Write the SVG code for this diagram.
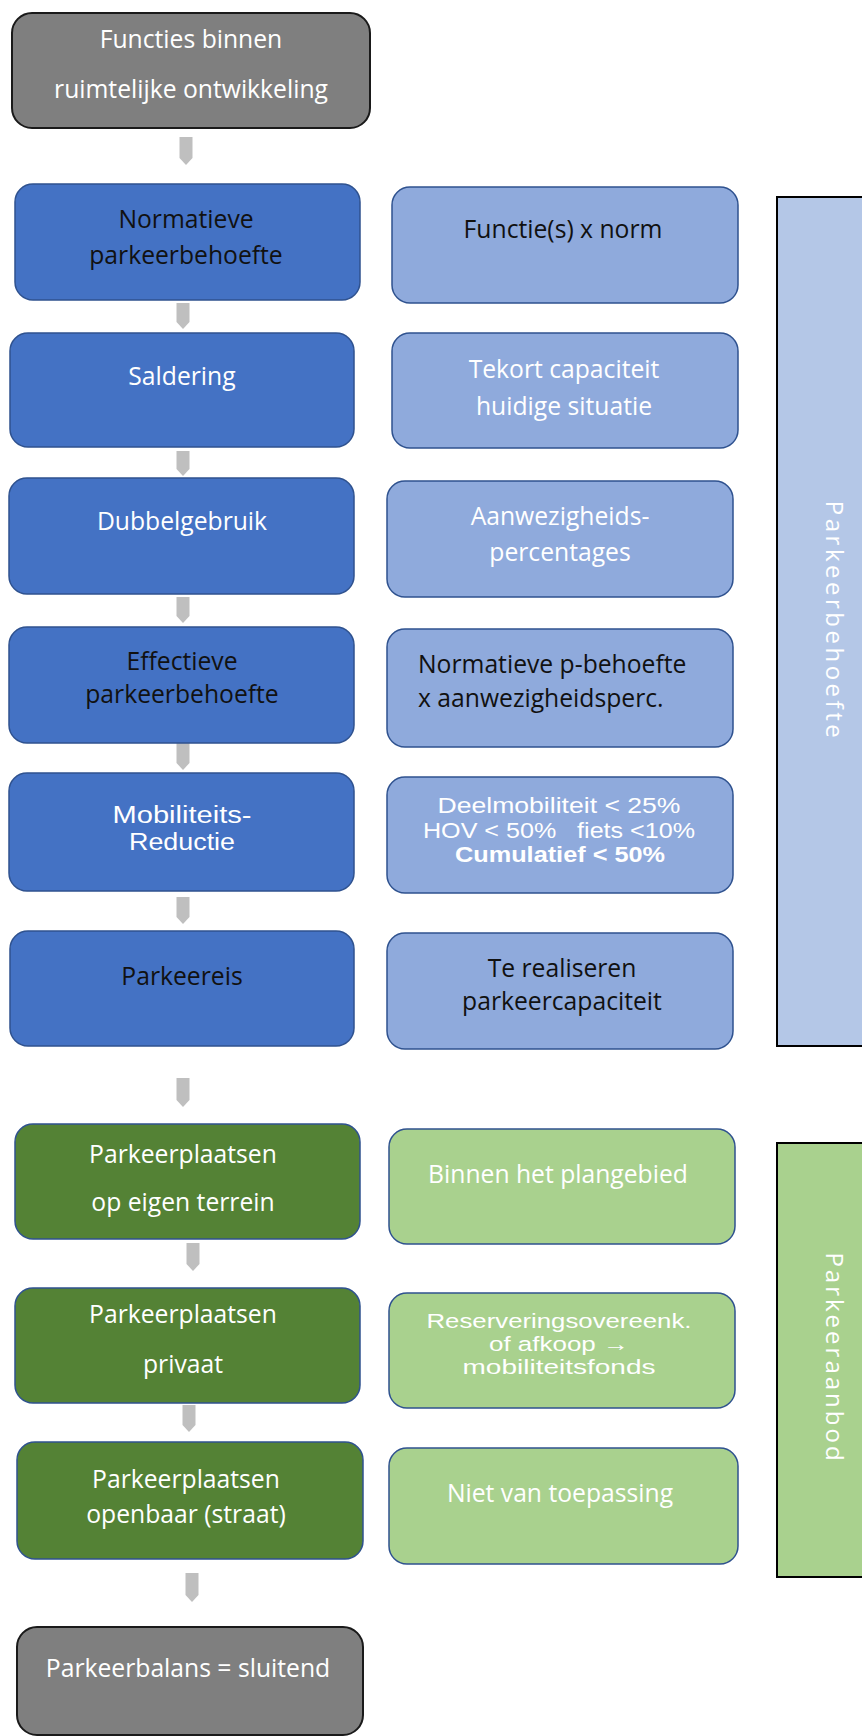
<svg xmlns="http://www.w3.org/2000/svg" width="862" height="1736" viewBox="0 0 862 1736">
<style>
.t{font-family:"Open Sans","Liberation Sans",sans-serif;font-size:24.7px;text-anchor:middle}
.n{font-family:"Liberation Sans","Open Sans",sans-serif}
.w{fill:#ffffff}
.k{fill:#111111}
.b{font-weight:bold}
.gray{fill:#7f7f7f;stroke:#1a1a1a;stroke-width:2}
.blue{fill:#4472c4;stroke:#2f528f;stroke-width:1.5}
.lblue{fill:#8faadc;stroke:#2f528f;stroke-width:1.5}
.green{fill:#548235;stroke:#2f528f;stroke-width:1.5}
.lgreen{fill:#a9d18e;stroke:#2f528f;stroke-width:1.5}
.panel{stroke:#000;stroke-width:2}
.arr{fill:#bfbfbf}
.v{font-family:"Open Sans","Liberation Sans",sans-serif;font-size:24px;text-anchor:middle;fill:#ffffff}
</style>
<rect width="862" height="1736" fill="#ffffff"/>

<g id="panel-behoefte">
<rect class="panel" x="777" y="197" width="120" height="849" fill="#b4c7e7"/>
<text class="v" transform="translate(826,621) rotate(90)" letter-spacing="3.5">Parkeerbehoefte</text>
</g>
<g id="panel-aanbod">
<rect class="panel" x="777" y="1143" width="120" height="434" fill="#a9d18e"/>
<text class="v" transform="translate(826,1358) rotate(90)" letter-spacing="3">Parkeeraanbod</text>
</g>

<g id="connectors">
<polygon class="arr" points="179.5,137 192.5,137 192.5,158 186,165 179.5,158"/>
<polygon class="arr" points="176.5,303 189.5,303 189.5,322 183,329 176.5,322"/>
<polygon class="arr" points="176.5,451 189.5,451 189.5,469 183,476 176.5,469"/>
<polygon class="arr" points="176.5,597 189.5,597 189.5,616 183,623 176.5,616"/>
<polygon class="arr" points="176.5,743 189.5,743 189.5,763 183,770 176.5,763"/>
<polygon class="arr" points="176.5,897 189.5,897 189.5,917 183,924 176.5,917"/>
<polygon class="arr" points="176.5,1078 189.5,1078 189.5,1100 183,1107 176.5,1100"/>
<polygon class="arr" points="186.5,1243 199.5,1243 199.5,1264 193,1271 186.5,1264"/>
<polygon class="arr" points="182.5,1405 195.5,1405 195.5,1425 189,1432 182.5,1425"/>
<polygon class="arr" points="185.5,1573 198.5,1573 198.5,1595 192,1602 185.5,1595"/>
</g>

<g id="n-functies">
<rect class="gray" x="12" y="13" width="358" height="115" rx="20"/>
<text class="t w" x="191" y="48">Functies binnen</text>
<text class="t w" x="191" y="98">ruimtelijke ontwikkeling</text>
</g>
<g id="n-normatieve">
<rect class="blue" x="15" y="184" width="345" height="116" rx="18"/>
<text class="t k" x="186" y="228">Normatieve</text>
<text class="t k" x="186" y="264">parkeerbehoefte</text>
</g>
<g id="n-saldering">
<rect class="blue" x="10" y="333" width="344" height="114" rx="18"/>
<text class="t w" x="182" y="385">Saldering</text>
</g>
<g id="n-dubbelgebruik">
<rect class="blue" x="9" y="478" width="345" height="116" rx="18"/>
<text class="t w" x="182" y="530">Dubbelgebruik</text>
</g>
<g id="n-effectieve">
<rect class="blue" x="9" y="627" width="345" height="116" rx="18"/>
<text class="t k" x="182" y="670">Effectieve</text>
<text class="t k" x="182" y="703">parkeerbehoefte</text>
</g>
<g id="n-mobiliteit">
<rect class="blue" x="9" y="773" width="345" height="118" rx="18"/>
<text class="t n w" x="182" y="823" style="font-size:23px" textLength="139" lengthAdjust="spacingAndGlyphs">Mobiliteits-</text>
<text class="t n w" x="182" y="850" style="font-size:23px" textLength="106" lengthAdjust="spacingAndGlyphs">Reductie</text>
</g>
<g id="n-parkeereis">
<rect class="blue" x="10" y="931" width="344" height="115" rx="18"/>
<text class="t k" x="182" y="985">Parkeereis</text>
</g>
<g id="n-eigen-terrein">
<rect class="green" x="15" y="1124" width="345" height="115" rx="18"/>
<text class="t w" x="183" y="1163">Parkeerplaatsen</text>
<text class="t w" x="183" y="1211">op eigen terrein</text>
</g>
<g id="n-privaat">
<rect class="green" x="15" y="1288" width="345" height="115" rx="18"/>
<text class="t w" x="183" y="1323">Parkeerplaatsen</text>
<text class="t w" x="183" y="1373">privaat</text>
</g>
<g id="n-openbaar">
<rect class="green" x="17" y="1442" width="346" height="117" rx="18"/>
<text class="t w" x="186" y="1488">Parkeerplaatsen</text>
<text class="t w" x="186" y="1523">openbaar (straat)</text>
</g>
<g id="n-balans">
<rect class="gray" x="17" y="1627" width="346" height="108" rx="20"/>
<text class="t w" x="188" y="1677">Parkeerbalans = sluitend</text>
</g>

<g id="r-norm">
<rect class="lblue" x="392" y="187" width="346" height="116" rx="18"/>
<text class="t k" x="563" y="238">Functie(s) x norm</text>
</g>
<g id="r-tekort">
<rect class="lblue" x="392" y="333" width="346" height="115" rx="18"/>
<text class="t w" x="564" y="378">Tekort capaciteit</text>
<text class="t w" x="564" y="415">huidige situatie</text>
</g>
<g id="r-aanwezigheid">
<rect class="lblue" x="387" y="481" width="346" height="116" rx="18"/>
<text class="t w" x="560" y="525">Aanwezigheids-</text>
<text class="t w" x="560" y="561">percentages</text>
</g>
<g id="r-pbehoefte">
<rect class="lblue" x="387" y="629" width="346" height="118" rx="18"/>
<text class="t k" x="418" y="673" style="text-anchor:start">Normatieve p-behoefte</text>
<text class="t k" x="418" y="707" style="text-anchor:start">x aanwezigheidsperc.</text>
</g>
<g id="r-reductie">
<rect class="lblue" x="387" y="777" width="346" height="116" rx="18"/>
<text class="t n w" x="559" y="813" style="font-size:21.5px" textLength="243" lengthAdjust="spacingAndGlyphs">Deelmobiliteit &lt; 25%</text>
<text class="t n w" x="559" y="837.5" style="font-size:21.5px;white-space:pre" xml:space="preserve" textLength="272" lengthAdjust="spacingAndGlyphs">HOV &lt; 50%   fiets &lt;10%</text>
<text class="t n w b" x="560" y="862" style="font-size:21.5px" textLength="210" lengthAdjust="spacingAndGlyphs">Cumulatief &lt; 50%</text>
</g>
<g id="r-capaciteit">
<rect class="lblue" x="387" y="933" width="346" height="116" rx="18"/>
<text class="t k" x="562" y="977">Te realiseren</text>
<text class="t k" x="562" y="1010">parkeercapaciteit</text>
</g>
<g id="r-plangebied">
<rect class="lgreen" x="389" y="1129" width="346" height="115" rx="18"/>
<text class="t w" x="558" y="1183">Binnen het plangebied</text>
</g>
<g id="r-reservering">
<rect class="lgreen" x="389" y="1293" width="346" height="115" rx="18"/>
<text class="t n w" x="559" y="1328" style="font-size:20.5px" textLength="265" lengthAdjust="spacingAndGlyphs">Reserveringsovereenk.</text>
<text class="t n w" x="559" y="1351" style="font-size:20.5px" textLength="140" lengthAdjust="spacingAndGlyphs">of afkoop →</text>
<text class="t n w" x="559" y="1374" style="font-size:20.5px" textLength="193" lengthAdjust="spacingAndGlyphs">mobiliteitsfonds</text>
</g>
<g id="r-nvt">
<rect class="lgreen" x="389" y="1448" width="349" height="116" rx="18"/>
<text class="t w" x="560" y="1502">Niet van toepassing</text>
</g>
</svg>
